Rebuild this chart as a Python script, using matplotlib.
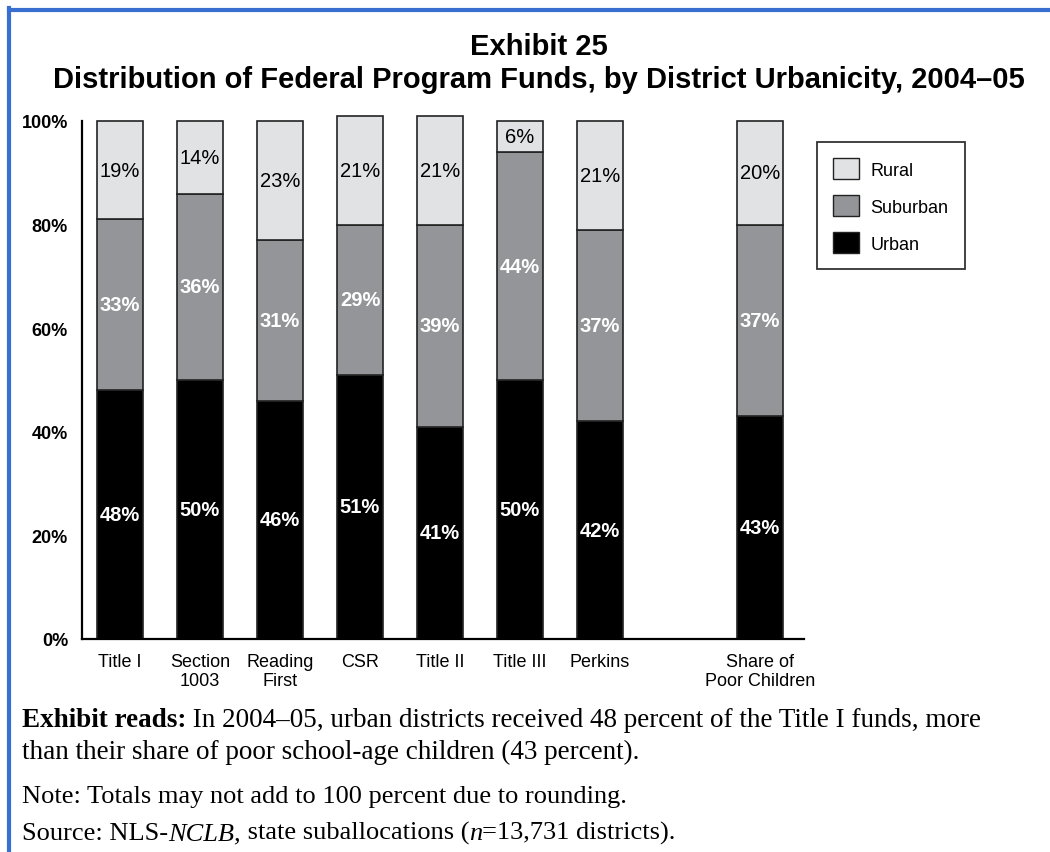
import matplotlib
matplotlib.use("Agg")
import matplotlib.pyplot as plt
from matplotlib.lines import Line2D
from matplotlib.patches import Patch
import numpy as np

# Данные
programs = ["Title I", "Section\n1003", "Reading\nFirst", "CSR", "Title II",
            "Title III", "Perkins", "Share of\nPoor Children"]
positions = [0, 1, 2, 3, 4, 5, 6, 8]
urban = [48, 50, 46, 51, 41, 50, 42, 43]
suburban = [33, 36, 31, 29, 39, 44, 37, 37]
rural = [19, 14, 23, 21, 21, 6, 21, 20]

series = ["Urban", "Suburban", "Rural"]
colors = {"Rural": "#e1e2e4", "Suburban": "#949598", "Urban": "#000000"}

plt.rcParams["font.family"] = ["Liberation Sans", "DejaVu Sans"]

fig = plt.figure(figsize=(10.5, 8.53), dpi=100)
W, H = 1050, 853

# Рамка
blue = "#3a6fd2"
fig.add_artist(Line2D([9 / W, 9 / W], [0, 1 - 9 / H], color=blue, lw=3.0,
                      transform=fig.transFigure, solid_capstyle="projecting"))
fig.add_artist(Line2D([9 / W, 1], [1 - 11 / H, 1 - 11 / H], color=blue, lw=3.0,
                      transform=fig.transFigure, solid_capstyle="projecting"))

fig.text(539 / W, 1 - 47 / H, "Exhibit 25", ha="center", va="center",
         fontsize=21, fontweight="bold")
fig.text(539 / W, 1 - 80 / H,
         "Distribution of Federal Program Funds, by District Urbanicity, 2004\u201305",
         ha="center", va="center", fontsize=21, fontweight="bold")

ax = fig.add_axes([82 / W, 1 - 640 / H, 722 / W, 518 / H])
width = 46 / 80
bottom = np.zeros(len(positions))
vals = {"Urban": urban, "Suburban": suburban, "Rural": rural}
for s in series:
    v = np.array(vals[s])
    ax.bar(positions, v, width, bottom=bottom, color=colors[s],
           edgecolor="#222222", linewidth=1.2, clip_on=False)
    for x, b, h in zip(positions, bottom, v):
        if s == "Rural":
            ax.text(x, b + h / 2, f"{h}%", ha="center", va="center",
                    fontsize=14.5, color="black")
        else:
            ax.text(x, b + h / 2, f"{h}%", ha="center", va="center",
                    fontsize=14.5, color="white", fontweight="bold")
    bottom += v

ax.set_xlim(-0.475, 8.55)
ax.set_ylim(0, 100)
ax.set_yticks([0, 20, 40, 60, 80, 100])
ax.set_yticklabels([f"{t}%" for t in [0, 20, 40, 60, 80, 100]],
                   fontsize=13, fontweight="bold")
ax.set_xticks(positions)
ax.set_xticklabels(programs, fontsize=13, linespacing=1.2)
ax.tick_params(axis="both", length=0)
ax.tick_params(axis="y", pad=10)
ax.tick_params(axis="x", pad=10)
for sp in ["top", "right"]:
    ax.spines[sp].set_visible(False)
for sp in ["left", "bottom"]:
    ax.spines[sp].set_linewidth(1.6)

handles = [Patch(facecolor=colors[s], edgecolor="#222222", label=s)
           for s in ["Rural", "Suburban", "Urban"]]
leg = fig.legend(handles=handles, loc="upper left",
                 bbox_to_anchor=(817 / W, 1 - 143 / H), fontsize=13,
                 frameon=True, fancybox=False, edgecolor="black",
                 handlelength=1.4, handleheight=1.4, labelspacing=0.89,
                 borderpad=0.9, handletextpad=0.65, borderaxespad=0)
leg.get_frame().set_linewidth(1.3)

# Подписи снизу (серифный шрифт)
fig.canvas.draw()
renderer = fig.canvas.get_renderer()


def chunks(x_px, y_px, parts, size=16):
    x = x_px
    for txt, kw in parts:
        t = fig.text(x / W, 1 - y_px / H, txt, ha="left", va="baseline",
                     fontsize=size, family=["Liberation Serif", "DejaVu Serif"], **kw)
        x += t.get_window_extent(renderer).width


chunks(22, 727, [("Exhibit reads:", {"fontweight": "bold"}),
                 (" In 2004\u201305, urban districts received 48 percent of the Title I funds, more", {})],
       size=19.5)
chunks(22, 759, [("than their share of poor school-age children (43 percent).", {})], size=19.5)
chunks(22, 803, [("Note: Totals may not add to 100 percent due to rounding.", {})], size=19)
chunks(22, 840, [("Source: NLS-", {}), ("NCLB,", {"style": "italic"}),
                 (" state suballocations (", {}), ("n", {"style": "italic"}),
                 ("=13,731 districts).", {})], size=19)

fig.savefig("out.png", dpi=100)
